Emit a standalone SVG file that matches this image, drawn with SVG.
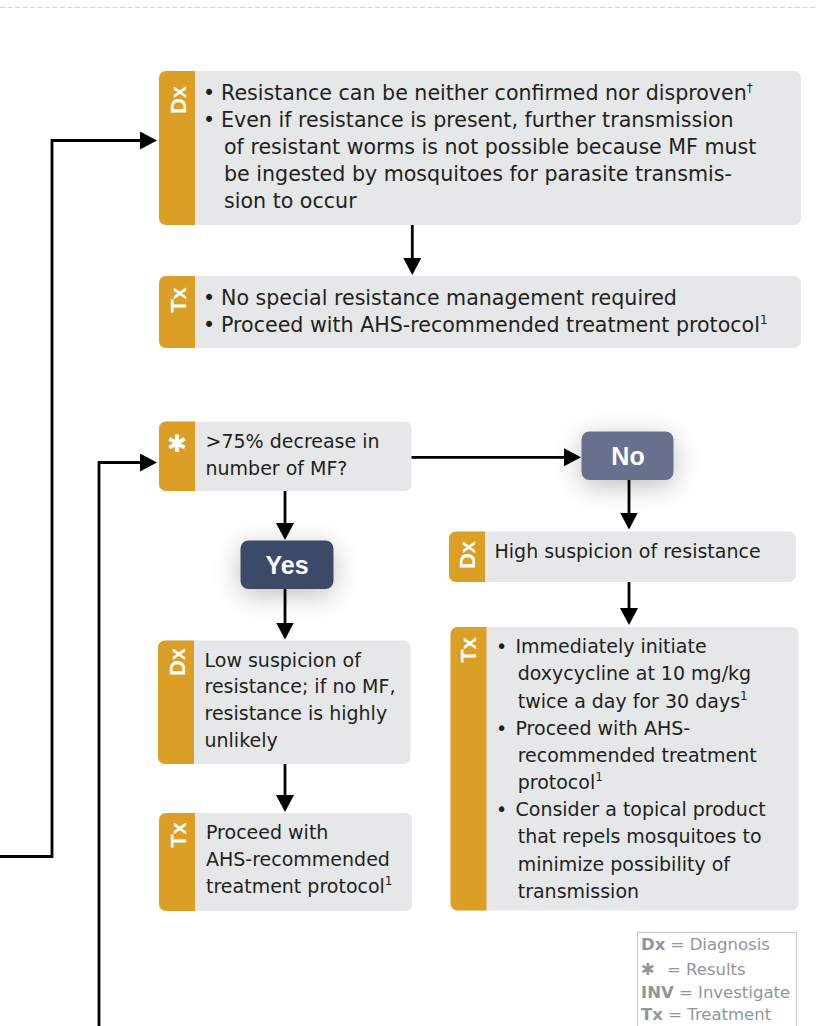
<svg xmlns="http://www.w3.org/2000/svg" width="817" height="1026" viewBox="0 0 817 1026">
<defs>
<style>
.box{fill:#e6e7e8}
.strip{fill:#dc9f26}
.t{font-family:"DejaVu Sans",sans-serif;fill:#231f20}
.t1{font-size:20.6px}
.t2{font-size:19px}
.lab{font-family:"Liberation Sans",Arial,sans-serif;font-weight:bold;font-size:22px;fill:#fff;text-anchor:middle}
.yn{font-family:"Liberation Sans",Arial,sans-serif;font-weight:bold;font-size:25px;fill:#fff;text-anchor:middle}
.sup{font-size:12px}
.conn{fill:none;stroke:#000;stroke-width:2.8}
.leg{font-family:"DejaVu Sans",sans-serif;font-size:16.5px;fill:#939598}
</style>
<marker id="ah" viewBox="0 0 17 18" refX="14" refY="9" markerWidth="17" markerHeight="18" markerUnits="userSpaceOnUse" orient="auto"><path d="M0,0 L17,9 L0,18 Z" fill="#000"/></marker>
<filter id="sh" x="-80%" y="-120%" width="260%" height="340%"><feDropShadow dx="0" dy="6" stdDeviation="13" flood-color="#000" flood-opacity="0.25"/></filter>
</defs>

<line x1="0" y1="7.5" x2="817" y2="7.5" stroke="#d1d3d4" stroke-width="1" stroke-dasharray="5 2.5"/>

<g id="connectors">
<path class="conn" d="M0,856.5 H52 V140.5 H154" marker-end="url(#ah)"/>
<path class="conn" d="M99,1026 V462.5 H154" marker-end="url(#ah)"/>
<path class="conn" d="M412.3,225 V272" marker-end="url(#ah)"/>
<path class="conn" d="M411,457.3 H578" marker-end="url(#ah)"/>
<path class="conn" d="M285,490.5 V537" marker-end="url(#ah)"/>
<path class="conn" d="M285,589 V636.5" marker-end="url(#ah)"/>
<path class="conn" d="M285,764 V809" marker-end="url(#ah)"/>
<path class="conn" d="M629,480 V526.5" marker-end="url(#ah)"/>
<path class="conn" d="M629,582 V622" marker-end="url(#ah)"/>
</g>

<g id="dx-undetermined">
<rect class="box" x="159" y="71" width="642" height="154" rx="7"/>
<path class="strip" d="M166,71 H195 V225 H166 A7,7 0 0 1 159,218 V78 A7,7 0 0 1 166,71 Z"/>
<text class="lab" transform="translate(185.5,100) rotate(-90)">Dx</text>
<text class="t t1" x="203" y="99.5">•</text>
<text class="t t1" x="203" y="126.7">•</text>
<text class="t t1" x="221" y="99.5">Resistance can be neither confirmed nor disproven<tspan class="sup" dy="-8">†</tspan></text>
<text class="t t1" x="221" y="126.7">Even if resistance is present, further transmission</text>
<text class="t t1" x="224" y="153.9">of resistant worms is not possible because MF must</text>
<text class="t t1" x="224" y="181.1">be ingested by mosquitoes for parasite transmis-</text>
<text class="t t1" x="224" y="208.3">sion to occur</text>
</g>

<g id="tx-standard">
<rect class="box" x="159" y="276" width="642" height="72" rx="7"/>
<path class="strip" d="M166,276 H195 V348 H166 A7,7 0 0 1 159,341 V283 A7,7 0 0 1 166,276 Z"/>
<text class="lab" transform="translate(185.5,300) rotate(-90)">Tx</text>
<text class="t t1" x="203" y="305">•</text>
<text class="t t1" x="203" y="332.3">•</text>
<text class="t t1" x="221" y="305">No special resistance management required</text>
<text class="t t1" x="221" y="332.3">Proceed with AHS-recommended treatment protocol<tspan class="sup" dy="-8">1</tspan></text>
</g>

<g id="results">
<rect class="box" x="159" y="421.5" width="252.5" height="69.5" rx="7"/>
<path class="strip" d="M166,421.5 H195 V491 H166 A7,7 0 0 1 159,484 V428.5 A7,7 0 0 1 166,421.5 Z"/>
<text x="177" y="452" font-family="DejaVu Sans,sans-serif" font-size="24" fill="#fff" text-anchor="middle">✱</text>
<text class="t t2" x="205.5" y="448">&gt;75% decrease in</text>
<text class="t t2" x="205.5" y="475">number of MF?</text>
</g>

<g id="no">
<rect x="581.5" y="431.5" width="92" height="48.5" rx="8" fill="#676f8e" filter="url(#sh)"/>
<text class="yn" x="628" y="464.5">No</text>
</g>

<g id="yes">
<rect x="240.5" y="540.5" width="93" height="48.5" rx="8" fill="#3e4869" filter="url(#sh)"/>
<text class="yn" x="287" y="574">Yes</text>
</g>

<g id="dx-high">
<rect class="box" x="449" y="531.5" width="347" height="50.5" rx="7"/>
<path class="strip" d="M456,531.5 H485 V582 H456 A7,7 0 0 1 449,575 V538.5 A7,7 0 0 1 456,531.5 Z"/>
<text class="lab" transform="translate(475,555) rotate(-90)">Dx</text>
<text class="t t2" x="494.5" y="558">High suspicion of resistance</text>
</g>

<g id="tx-high">
<rect class="box" x="450.5" y="627" width="348" height="283.5" rx="7"/>
<path class="strip" d="M457.5,627 H486.5 V910.5 H457.5 A7,7 0 0 1 450.5,903.5 V634 A7,7 0 0 1 457.5,627 Z"/>
<text class="lab" transform="translate(476,650) rotate(-90)">Tx</text>
<text class="t t2" x="496" y="653.3">•</text>
<text class="t t2" x="496" y="734.75">•</text>
<text class="t t2" x="496" y="816.2">•</text>
<text class="t t2" x="515.5" y="653.3">Immediately initiate</text>
<text class="t t2" x="517.7" y="680.45">doxycycline at 10 mg/kg</text>
<text class="t t2" x="517.7" y="707.6">twice a day for 30 days<tspan class="sup" dy="-8">1</tspan></text>
<text class="t t2" x="515.5" y="734.75">Proceed with AHS-</text>
<text class="t t2" x="517.7" y="761.9">recommended treatment</text>
<text class="t t2" x="517.7" y="789.05">protocol<tspan class="sup" dy="-8">1</tspan></text>
<text class="t t2" x="515.5" y="816.2">Consider a topical product</text>
<text class="t t2" x="517.7" y="843.35">that repels mosquitoes to</text>
<text class="t t2" x="517.7" y="870.5">minimize possibility of</text>
<text class="t t2" x="517.7" y="897.65">transmission</text>
</g>

<g id="dx-low">
<rect class="box" x="158" y="640.5" width="252.5" height="123.5" rx="7"/>
<path class="strip" d="M165,640.5 H194 V764 H165 A7,7 0 0 1 158,757 V647.5 A7,7 0 0 1 165,640.5 Z"/>
<text class="lab" transform="translate(184.5,662) rotate(-90)">Dx</text>
<text class="t t2" x="204.5" y="666.7">Low suspicion of</text>
<text class="t t2" x="204.5" y="693.4">resistance; if no MF,</text>
<text class="t t2" x="204.5" y="720.1">resistance is highly</text>
<text class="t t2" x="204.5" y="746.8">unlikely</text>
</g>

<g id="tx-low">
<rect class="box" x="159" y="813" width="253" height="98" rx="7"/>
<path class="strip" d="M166,813 H195 V911 H166 A7,7 0 0 1 159,904 V820 A7,7 0 0 1 166,813 Z"/>
<text class="lab" transform="translate(185.5,835) rotate(-90)">Tx</text>
<text class="t t2" x="206" y="839">Proceed with</text>
<text class="t t2" x="206" y="866">AHS-recommended</text>
<text class="t t2" x="206" y="893">treatment protocol<tspan class="sup" dy="-8">1</tspan></text>
</g>

<g id="legend">
<rect x="637.5" y="932.5" width="159" height="110" fill="none" stroke="#c7c8ca" stroke-width="1"/>
<text class="leg" x="641" y="950"><tspan font-weight="bold">Dx</tspan> = Diagnosis</text>
<text class="leg" x="641" y="975">✱</text>
<text class="leg" x="667" y="975">= Results</text>
<text class="leg" x="641" y="998"><tspan font-weight="bold">INV</tspan> = Investigate</text>
<text class="leg" x="641" y="1020"><tspan font-weight="bold">Tx</tspan> = Treatment</text>
</g>
</svg>
